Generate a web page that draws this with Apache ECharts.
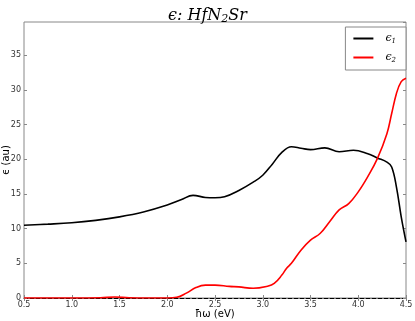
<!DOCTYPE html>
<html>
<head>
<meta charset="utf-8">
<script src="https://cdn.jsdelivr.net/npm/echarts@6/dist/echarts.min.js"></script>
<style>
  html, body { margin: 0; padding: 0; background: #fff; }
  #chart { width: 415px; height: 321px; }
</style>
</head>
<body>
<div id="chart"></div>
<script>
// photon energy (eV) and dielectric function values
const eps1Energy = [0.5, 0.75, 1.0, 1.25, 1.5, 1.75, 2.0, 2.15, 2.27, 2.4, 2.5, 2.6, 2.75, 2.9, 3.0, 3.1, 3.2, 3.3, 3.4, 3.5, 3.65, 3.8, 3.95, 4.1, 4.2, 4.3, 4.35, 4.4, 4.45, 4.5];
const eps1Values = [10.5, 10.65, 10.85, 11.2, 11.7, 12.4, 13.4, 14.2, 14.8, 14.5, 14.45, 14.6, 15.5, 16.7, 17.7, 19.3, 21.0, 21.8, 21.6, 21.4, 21.65, 21.1, 21.3, 20.8, 20.2, 19.6, 18.9, 16.0, 11.7, 8.1];

const eps2Energy = [0.5, 1.0, 1.3, 1.45, 1.6, 1.8, 2.0, 2.1, 2.2, 2.3, 2.4, 2.5, 2.65, 2.75, 2.9, 3.05, 3.12, 3.2, 3.25, 3.3, 3.4, 3.5, 3.6, 3.7, 3.8, 3.9, 4.0, 4.1, 4.2, 4.3, 4.35, 4.4, 4.45, 4.5];
const eps2Values = [0.0, 0.0, 0.03, 0.15, 0.03, 0.0, 0.0, 0.1, 0.7, 1.5, 1.85, 1.85, 1.67, 1.6, 1.4, 1.7, 2.1, 3.3, 4.3, 5.0, 6.9, 8.35, 9.3, 11.0, 12.7, 13.6, 15.3, 17.5, 20.1, 23.7, 26.6, 29.5, 31.2, 31.7];

const xTicks = [0.5, 1.0, 1.5, 2.0, 2.5, 3.0, 3.5, 4.0, 4.5];

const pairs = (xs, ys) => xs.map((x, i) => [x, ys[i]]);

const chart = echarts.init(document.getElementById('chart'));
const tickLabel = { color: '#333', fontSize: 8, fontFamily: 'DejaVu Sans' };

chart.setOption({
  animation: false,
  title: {
    text: '{a|ϵ: HfN}{s|2}{a|Sr}',
    left: 'center',
    top: 1,
    textStyle: {
      fontWeight: 'normal',
      rich: {
        a: { fontFamily: 'DejaVu Serif', fontStyle: 'italic', fontWeight: 'normal', fontSize: 16, color: '#000' },
        s: { fontFamily: 'DejaVu Serif', fontStyle: 'italic', fontWeight: 'normal', fontSize: 11, color: '#000', verticalAlign: 'bottom', padding: [8, 0, 0, 0] }
      }
    }
  },
  grid: { left: 24, right: 9, top: 22, bottom: 23, outerBoundsMode: 'none', containLabel: false, show: true, borderColor: '#888', borderWidth: 1 },
  legend: {
    right: 9,
    top: 27,
    orient: 'vertical',
    itemWidth: 20,
    itemHeight: 2,
    itemGap: 7,
    padding: [6, 10, 6, 8],
    borderColor: '#888',
    borderWidth: 1,
    borderRadius: 0,
    backgroundColor: '#fff',
    icon: 'rect',
    textStyle: { fontFamily: 'DejaVu Serif', fontStyle: 'italic', fontSize: 11, color: '#000',
      rich: { s: { fontFamily: 'DejaVu Serif', fontStyle: 'italic', fontSize: 7, verticalAlign: 'bottom', padding: [6, 0, 0, 0] } } },
    formatter: name => name === 'e1' ? '  ϵ{s|1}' : '  ϵ{s|2}',
    data: ['e1', 'e2']
  },
  xAxis: [{
    type: 'value',
    min: 0.5,
    max: 4.5,
    interval: 0.5,
    name: 'ħω (eV)',
    nameLocation: 'middle',
    nameGap: 11,
    nameMoveOverlap: false,
    nameTextStyle: { fontFamily: 'DejaVu Sans', fontSize: 10, color: '#000' },
    axisLine: { show: true, lineStyle: { color: '#000', type: 'dashed', width: 1 } },
    axisTick: { show: true, inside: true, length: 3, lineStyle: { color: '#888' } },
    axisLabel: Object.assign({ margin: 3, formatter: v => xTicks.includes(v) ? v.toFixed(1) : '' }, tickLabel),
    splitLine: { show: false }
  }, {
    type: 'value',
    position: 'top',
    min: 0.5,
    max: 4.5,
    interval: 0.5,
    axisLine: { show: false },
    axisTick: { show: true, inside: true, length: 3, lineStyle: { color: '#888' } },
    axisLabel: { show: false },
    splitLine: { show: false }
  }],
  yAxis: [{
    type: 'value',
    min: 0,
    max: 39.8,
    interval: 5,
    name: 'ϵ (au)',
    nameLocation: 'middle',
    nameGap: 12.5,
    nameMoveOverlap: false,
    nameTextStyle: { fontFamily: 'DejaVu Sans', fontSize: 10, color: '#000' },
    axisLine: { show: false },
    axisTick: { show: true, inside: true, length: 3, lineStyle: { color: '#888' } },
    axisLabel: Object.assign({ margin: 3, showMaxLabel: false }, tickLabel),
    splitLine: { show: false }
  }, {
    type: 'value',
    position: 'right',
    min: 0,
    max: 39.8,
    interval: 5,
    axisLine: { show: false },
    axisTick: { show: true, inside: true, length: 3, lineStyle: { color: '#888' } },
    axisLabel: { show: false },
    splitLine: { show: false }
  }],
  series: [{
    name: 'e1',
    type: 'line',
    smooth: 0.4,
    symbol: 'none',
    data: pairs(eps1Energy, eps1Values),
    itemStyle: { color: '#000' },
    lineStyle: { color: '#000', width: 1.6 }
  }, {
    name: 'e2',
    type: 'line',
    smooth: 0.4,
    symbol: 'none',
    data: pairs(eps2Energy, eps2Values),
    itemStyle: { color: '#f00' },
    lineStyle: { color: '#f00', width: 1.6 }
  }]
});
</script>
</body>
</html>
